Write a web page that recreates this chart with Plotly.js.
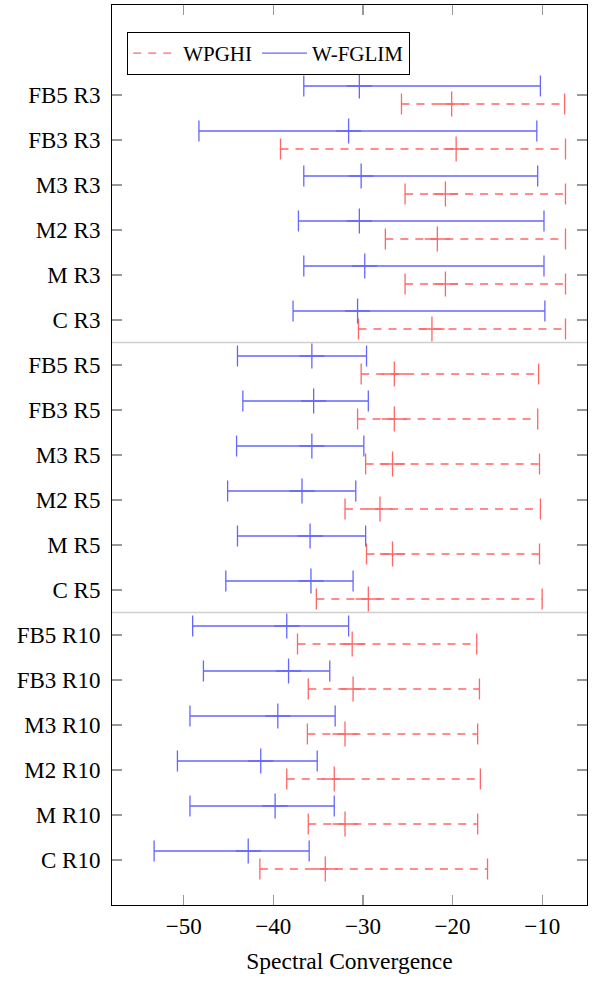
<!DOCTYPE html>
<html>
<head>
<meta charset="utf-8">
<script src="https://cdn.plot.ly/plotly-3.0.1.min.js"></script>
<style>html,body{margin:0;padding:0;background:#fff;}#chart{width:593px;height:981px;}</style>
</head>
<body>
<div id="chart"></div>
<script>
// Categories, bottom to top
var categories = ["C R10","M R10","M2 R10","M3 R10","FB3 R10","FB5 R10",
                  "C R5","M R5","M2 R5","M3 R5","FB3 R5","FB5 R5",
                  "C R3","M R3","M2 R3","M3 R3","FB3 R3","FB5 R3"];

// W-FGLIM (blue, solid)
var fglimMin = [-53.3,-49.3,-50.7,-49.3,-47.8,-49.0, -45.3,-44.0,-45.1,-44.1,-43.4,-44.0, -37.8,-36.6,-37.2,-36.6,-48.3,-36.6];
var fglimMed = [-42.8,-39.8,-41.4,-39.5,-38.3,-38.5, -35.8,-35.9,-36.8,-35.7,-35.5,-35.7, -30.6,-29.8,-30.4,-30.2,-31.6,-30.4];
var fglimMax = [-36.0,-33.2,-35.1,-33.1,-33.7,-31.6, -31.1,-29.7,-30.8,-29.9,-29.4,-29.6, -9.7,-9.8,-9.8,-10.5,-10.6,-10.2];

// WPGHI (red, dashed)
var wpghiMin = [-41.5,-36.1,-38.5,-36.2,-36.1,-37.3, -35.2,-29.6,-32.0,-29.7,-30.6,-30.2, -30.5,-25.3,-27.5,-25.3,-39.2,-25.7];
var wpghiMed = [-34.2,-32.0,-33.2,-32.0,-31.1,-31.2, -29.4,-26.7,-28.1,-26.7,-26.5,-26.5, -22.3,-20.8,-21.7,-20.8,-19.6,-20.1];
var wpghiMax = [-16.1,-17.2,-16.9,-17.2,-17.0,-17.3, -10.0,-10.3,-10.2,-10.3,-10.5,-10.4, -7.4,-7.4,-7.4,-7.4,-7.4,-7.5];

var xTicks = [-50,-40,-30,-20,-10];
var groupBreaks = [5.5, 11.5];

var RED = '#ff6666';
var BLUE = '#6666ff';
var FONT = 'Liberation Serif';

function buildSeries(name, mins, meds, maxs, offset, color, dash) {
  var lx = [], ly = [], cx = [], cy = [], my = [];
  for (var i = 0; i < categories.length; i++) {
    var y = i + offset;
    lx.push(mins[i], maxs[i], null); ly.push(y, y, null);
    cx.push(mins[i], maxs[i]); cy.push(y, y);
    my.push(y);
  }
  return [
    {type:'scatter', mode:'lines', name:name, x:lx, y:ly, connectgaps:false,
     line:{color:color, width:1.3, dash:dash}, hoverinfo:'skip'},
    {type:'scatter', mode:'markers', showlegend:false, x:cx, y:cy,
     marker:{symbol:'line-ns', size:15, line:{color:color, width:1.3}}},
    {type:'scatter', mode:'markers', showlegend:false, x:meds, y:my,
     marker:{symbol:'cross-thin', size:18, line:{color:color, width:1.3}}}
  ];
}

var traces = [].concat(
  buildSeries('WPGHI', wpghiMin, wpghiMed, wpghiMax, -0.2, RED, '8px,7px'),
  buildSeries('W-FGLIM', fglimMin, fglimMed, fglimMax, 0.2, BLUE, 'solid')
);

var shapes = groupBreaks.map(function (b) {
  return {type:'line', xref:'paper', x0:0, x1:1, yref:'y', y0:b, y1:b,
          line:{color:'#cfcfcf', width:1.5}, layer:'below'};
});

var layout = {
  width:593, height:981,
  margin:{l:111.5, r:6, t:5, b:76},
  paper_bgcolor:'#fff', plot_bgcolor:'#fff',
  font:{family:FONT, size:23, color:'#000'},
  showlegend:true,
  legend:{orientation:'h', x:0.032, y:0.97, xanchor:'left', yanchor:'top',
          bordercolor:'#000', borderwidth:1, bgcolor:'#fff', itemwidth:45,
          font:{family:FONT, size:21, color:'#000'}, traceorder:'normal'},
  xaxis:{range:[-58,-5], tickvals:xTicks, ticks:'inside', ticklen:10, tickwidth:1.3,
         tickcolor:'#999', showline:true, linecolor:'#000', linewidth:1, mirror:'ticks',
         showgrid:false, zeroline:false, tickfont:{family:FONT, size:23, color:'#000'},
         title:{text:'Spectral Convergence', font:{family:FONT, size:23.5, color:'#000'}, standoff:14}},
  yaxis:{range:[-1,19], tickvals:categories.map(function(c,i){return i;}), ticktext:categories,
         ticks:'inside', ticklen:10, tickwidth:1.3, tickcolor:'#999', ticklabelstandoff:6,
         showline:true, linecolor:'#000', linewidth:1, mirror:'ticks',
         tickfont:{family:FONT, size:23, color:'#000'},
         showgrid:false, zeroline:false},
  shapes:shapes
};

Plotly.newPlot('chart', traces, layout, {staticPlot:true});
</script>
</body>
</html>
